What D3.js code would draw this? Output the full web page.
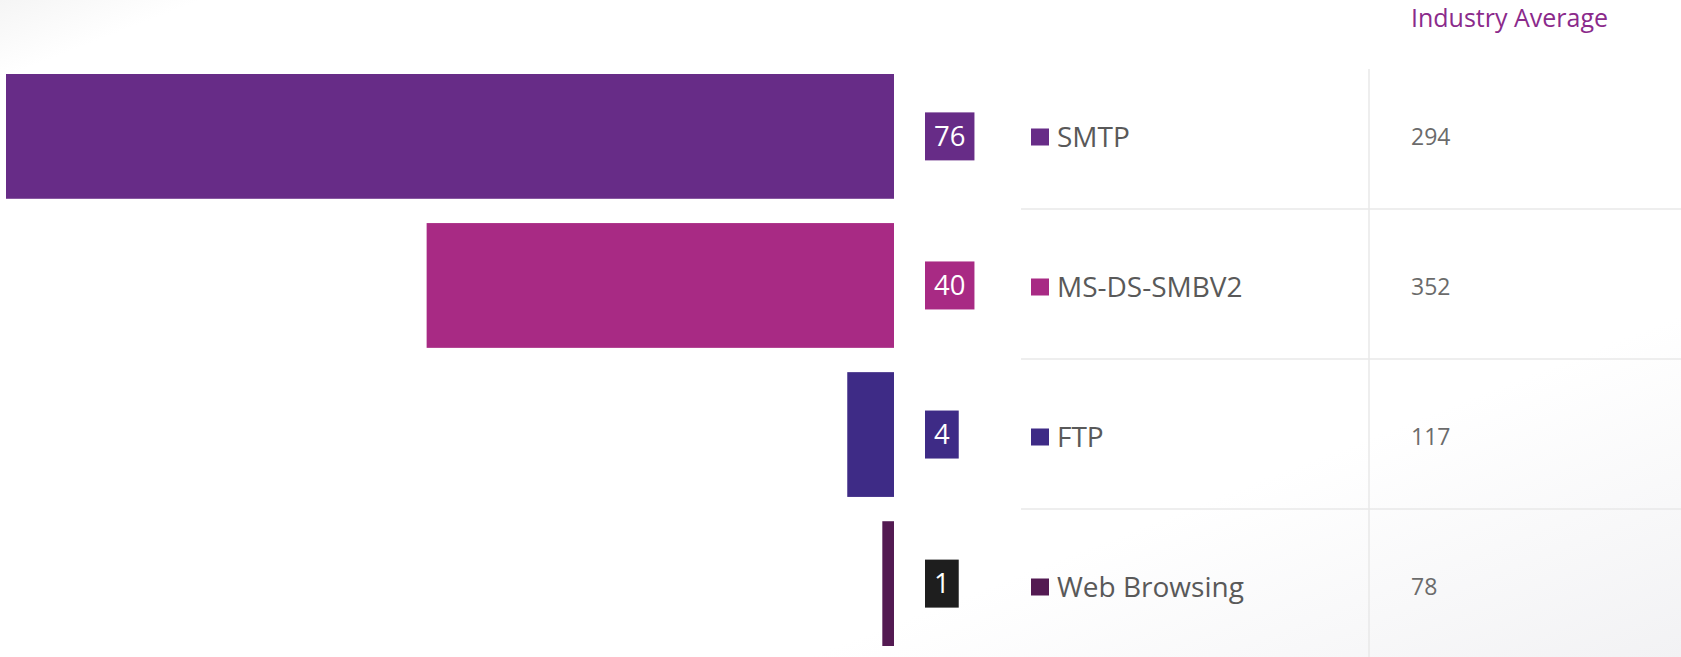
<!DOCTYPE html>
<html>
<head>
<meta charset="utf-8">
<script src="https://cdn.jsdelivr.net/npm/d3@7"></script>
<style>
  html, body { margin: 0; padding: 0; background: #fff; }
  svg { display: block; }
  text { font-family: "Open Sans", "Noto Sans", sans-serif; }
</style>
</head>
<body>
<svg id="chart" width="1681" height="657"></svg>
<script>
// ---- data ----
const categories = ["SMTP", "MS-DS-SMBV2", "FTP", "Web Browsing"];
const values = [76, 40, 4, 1];
const industryAverage = [294, 352, 117, 78];
const colors = ["#672C87", "#A82A84", "#3E2B86", "#531A52"];
const labelBoxColors = ["#672C87", "#A82A84", "#3E2B86", "#1E1E1E"];
const headerLabel = "Industry Average";

const W = 1681, H = 657;
const svg = d3.select("#chart");

// background shading
const defs = svg.append("defs");
const g1 = defs.append("linearGradient").attr("id", "bg")
  .attr("x1", 0).attr("y1", 0).attr("x2", 1).attr("y2", 1);
g1.append("stop").attr("offset", 0).attr("stop-color", "#f5f5f5");
g1.append("stop").attr("offset", 0.06).attr("stop-color", "#ffffff");
g1.append("stop").attr("offset", 0.74).attr("stop-color", "#ffffff");
g1.append("stop").attr("offset", 1).attr("stop-color", "#f2f2f4");
svg.append("rect").attr("width", W).attr("height", H).attr("fill", "url(#bg)");

// scales
const x = d3.scaleLinear().domain([0, d3.max(values)]).range([894, 6]);
const y = d3.scaleBand().domain(categories).range([74, 646]).paddingInner(0.163).paddingOuter(0);
const rowY = d3.scaleBand().domain(categories).range([59, 659]);

// bars
svg.append("g").selectAll("rect").data(categories).join("rect")
  .attr("x", (d, i) => x(values[i]))
  .attr("y", d => y(d))
  .attr("width", (d, i) => x(0) - x(values[i]))
  .attr("height", y.bandwidth())
  .attr("fill", (d, i) => colors[i]);

// value label boxes
const lbl = svg.append("g").selectAll("g").data(categories).join("g");
lbl.each(function(d, i) {
  const g = d3.select(this);
  const cy = y(d) + y.bandwidth() / 2;
  const t = g.append("text")
    .attr("y", cy + 9.8)
    .attr("font-size", 27.5)
    .attr("fill", "#ffffff")
    .text(values[i]);
  const tw = t.node().getComputedTextLength();
  const bx = 925, pad = 9;
  g.insert("rect", "text")
    .attr("x", bx).attr("y", cy - 24)
    .attr("width", tw + pad * 2).attr("height", 48)
    .attr("fill", labelBoxColors[i]);
  t.attr("x", bx + pad);
});

// table grid lines
const grid = svg.append("g").attr("stroke", "#e8e8e8").attr("stroke-width", 1.5);
grid.selectAll("line.h").data(categories.slice(1)).join("line")
  .attr("class", "h")
  .attr("x1", 1021).attr("x2", W)
  .attr("y1", d => rowY(d)).attr("y2", d => rowY(d));
grid.append("line")
  .attr("x1", 1369).attr("x2", 1369)
  .attr("y1", 69).attr("y2", H);

// legend / category labels
const leg = svg.append("g").selectAll("g").data(categories).join("g")
  .attr("transform", d => `translate(0,${rowY(d) + rowY.bandwidth() / 2 + 3})`);
leg.append("rect")
  .attr("x", 1031).attr("y", -8.5).attr("width", 18).attr("height", 17)
  .attr("fill", (d, i) => colors[i]);
leg.append("text")
  .attr("x", 1057).attr("y", 10)
  .attr("font-size", 28)
  .attr("fill", "#595959")
  .text(d => d);

// industry average column
svg.append("text")
  .attr("x", 1411).attr("y", 26.7)
  .attr("font-size", 25)
  .attr("fill", "#8B2A8B")
  .text(headerLabel);

svg.append("g").selectAll("text").data(categories).join("text")
  .attr("x", 1411)
  .attr("y", d => rowY(d) + rowY.bandwidth() / 2 + 3 + 8.3)
  .attr("font-size", 23)
  .attr("fill", "#6b6b6b")
  .text((d, i) => industryAverage[i]);
</script>
</body>
</html>
